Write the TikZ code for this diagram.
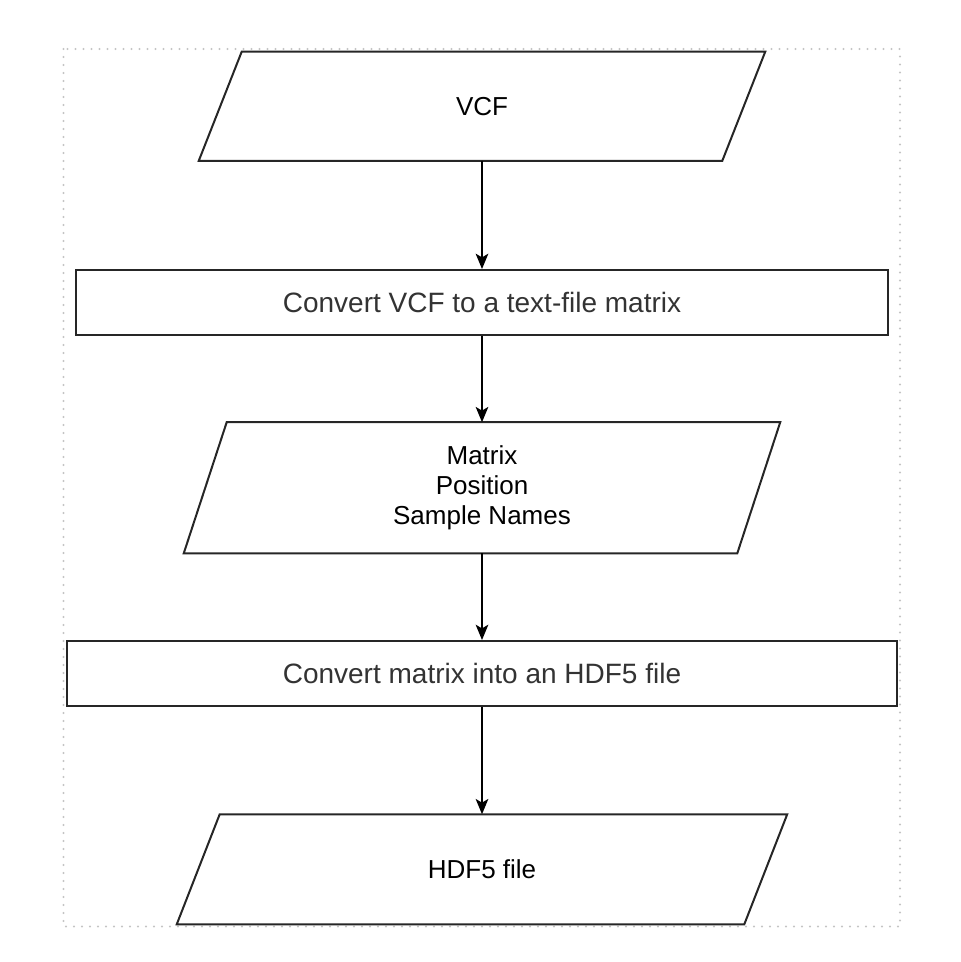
\documentclass[tikz,border=0pt]{standalone}
\usepackage{fontspec}
\setmainfont{Liberation Sans}
\usetikzlibrary{arrows.meta,calc}
\definecolor{boxtext}{HTML}{333333}
\definecolor{dotgray}{HTML}{C4C4C4}
\begin{document}
\begin{tikzpicture}[x=0.75pt,y=-0.75pt,
  iobox/.style={inner sep=0pt, align=center, font=\fontsize{19.5}{22.5}\selectfont, text=black},
  procbox/.style={draw=black!85, line width=1.5pt, inner sep=0pt, align=center, minimum height=48.75pt, font=\fontsize{21}{24}\selectfont, text=boxtext},
  outline/.style={draw=black!85, line width=1.5pt, line join=miter},
  arr/.style={draw=black, line width=1.1pt, -{Stealth[length=11.5pt,width=9.5pt,inset=2.8pt]}},
  frame/.style={draw=dotgray, line width=1.6pt, dash pattern=on 0pt off 6pt, line cap=round}
]
\useasboundingbox (0,0) rectangle (960,962);
\draw[frame] (63.5,49) rectangle (900,926.5);

% parallelogram nodes (outline drawn from anchors)
\node[iobox, minimum width=392.25pt, minimum height=81.4pt] (vcf) at (482,106.25) {VCF};
\draw[outline] ([xshift=16.1pt]vcf.north west) -- ([xshift=16.1pt]vcf.north east) -- ([xshift=-16.1pt]vcf.south east) -- ([xshift=-16.1pt]vcf.south west) -- cycle;

\node[procbox, minimum width=609pt] (conv1) at (482,302.5) {Convert VCF to a text-file matrix};

\node[iobox, minimum width=414.75pt, minimum height=97.9pt] (mat) at (482,487.75) {Matrix\\Position\\Sample Names};
\draw[outline] ([xshift=16.1pt]mat.north west) -- ([xshift=16.1pt]mat.north east) -- ([xshift=-16.1pt]mat.south east) -- ([xshift=-16.1pt]mat.south west) -- cycle;

\node[procbox, minimum width=622.5pt] (conv2) at (482,673.5) {Convert matrix into an HDF5 file};

\node[iobox, minimum width=425.25pt, minimum height=82.1pt] (hdf) at (482,869.25) {HDF5 file};
\draw[outline] ([xshift=16.1pt]hdf.north west) -- ([xshift=16.1pt]hdf.north east) -- ([xshift=-16.1pt]hdf.south east) -- ([xshift=-16.1pt]hdf.south west) -- cycle;

\draw[arr] (vcf.south) -- (conv1.north);
\draw[arr] (conv1.south) -- (mat.north);
\draw[arr] (mat.south) -- (conv2.north);
\draw[arr] (conv2.south) -- (hdf.north);
\end{tikzpicture}
\end{document}
